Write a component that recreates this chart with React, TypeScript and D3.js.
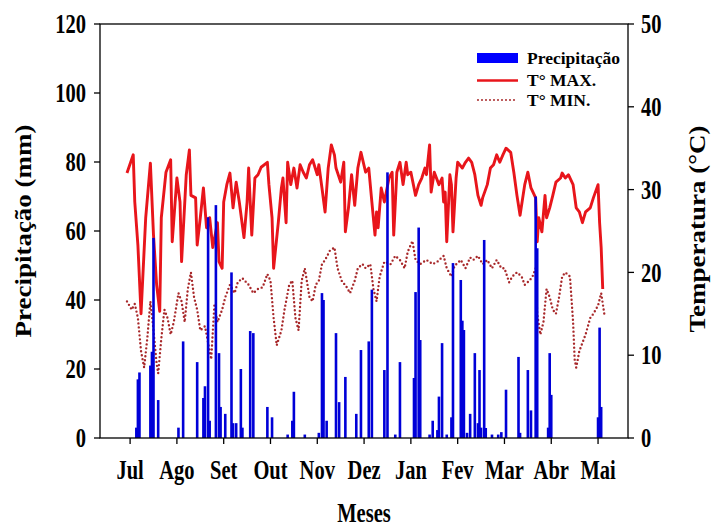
import React from "react";
import { scaleLinear, line } from "d3";

// month ticks (day index from first record)
const months = ["Jul", "Ago", "Set", "Out", "Nov", "Dez", "Jan", "Fev", "Mar", "Abr", "Mai"];
const monthDays = [2, 32, 62, 92, 122, 152, 182, 212, 242, 272, 302];

const precipTicks = [0, 20, 40, 60, 80, 100, 120];
const tempTicks = [0, 10, 20, 30, 40, 50];

// [day, °C]
const tmaxSeries: [number, number][] = [
  [0, 32.0], [4, 34.2], [5, 28.5], [7, 23.3], [9, 15.0], [12, 26.6], [15, 33.2], [17, 24.5], [19, 18.5],
  [21, 15.3], [22, 26.6], [25, 32.1], [28, 33.6], [29, 23.7], [32, 31.4], [34, 28.5], [35, 21.3], [38, 31.8],
  [40, 34.8], [41, 29.3], [44, 29.0], [45, 23.3], [47, 26.6], [49, 30.2], [51, 25.4], [53, 26.6], [55, 23.0],
  [58, 26.0], [59, 21.3], [61, 20.5], [62, 28.5], [64, 30.6], [66, 32.0], [68, 27.8], [70, 30.9], [72, 28.5],
  [75, 24.2], [77, 28.5], [78, 32.6], [80, 24.5], [82, 31.4], [84, 31.8], [86, 32.7], [90, 33.3], [91, 30.6],
  [93, 26.6], [94, 20.5], [97, 26.0], [99, 30.2], [100, 31.4], [102, 26.0], [103, 33.3], [105, 30.6],
  [107, 32.6], [109, 30.2], [111, 33.0], [113, 32.1], [115, 31.4], [117, 33.0], [119, 33.6], [122, 31.8],
  [123, 33.0], [125, 30.2], [127, 27.3], [129, 32.6], [131, 35.4], [133, 34.2], [134, 32.6], [137, 30.9],
  [139, 33.3], [140, 24.9], [142, 27.8], [144, 31.8], [146, 28.1], [148, 32.6], [150, 34.5], [153, 32.1],
  [155, 32.6], [157, 28.5], [159, 24.5], [160, 27.3], [161, 25.4], [163, 30.2], [165, 28.5], [168, 31.4],
  [170, 32.1], [171, 24.5], [173, 32.1], [175, 33.3], [177, 30.6], [179, 33.3], [180, 31.8], [182, 32.1],
  [185, 29.3], [187, 30.6], [189, 31.4], [191, 32.6], [192, 31.8], [194, 35.4], [195, 29.7], [197, 32.1],
  [200, 30.6], [202, 31.4], [203, 28.5], [204, 29.7], [205, 23.7], [207, 31.8], [208, 30.6], [209, 24.9],
  [211, 31.4], [212, 33.3], [215, 32.6], [217, 33.3], [219, 33.8], [221, 33.3], [223, 31.8], [225, 29.3],
  [227, 28.1], [228, 29.0], [231, 30.6], [233, 32.6], [235, 33.0], [237, 34.2], [239, 33.3], [241, 34.2],
  [243, 35.0], [246, 34.5], [248, 32.1], [250, 29.3], [252, 26.9], [255, 30.6], [257, 32.1], [259, 30.2],
  [262, 29.0], [263, 23.7], [264, 26.6], [266, 24.9], [268, 29.3], [269, 26.6], [271, 27.8], [273, 29.3],
  [275, 30.9], [278, 31.4], [279, 32.0], [281, 31.4], [283, 31.8], [286, 30.6], [288, 27.8], [290, 27.3],
  [292, 26.0], [294, 27.3], [297, 27.8], [299, 29.0], [302, 30.6], [303, 26.0], [304, 23.0], [305, 18.0],
];

const tminSeries: [number, number][] = [
  [0, 16.5], [3, 15.5], [5, 16.2], [7, 14.5], [9, 10.5], [11, 8.5], [13, 12], [15, 16.5], [17, 13], [19, 9],
  [20, 7.8], [22, 12], [24, 15.5], [26, 14.5], [28, 12.5], [30, 14], [33, 17.5], [35, 16.5], [37, 14],
  [39, 18], [41, 20], [43, 17], [45, 15.5], [47, 13], [50, 13.5], [53, 10.5], [54, 9.5], [56, 16], [58, 14],
  [61, 15.5], [63, 17], [66, 18.5], [69, 17.5], [71, 18.8], [74, 19.3], [78, 18.5], [81, 17.5], [84, 18],
  [87, 18.2], [90, 19.8], [92, 19], [94, 14.5], [96, 11.2], [99, 13], [101, 15.5], [104, 18.5], [106, 19],
  [108, 14.5], [110, 13], [112, 19], [114, 20.5], [117, 17], [119, 16.5], [121, 18.5], [123, 19], [125, 21],
  [127, 21.5], [130, 22.6], [133, 23], [135, 20.5], [138, 18.8], [140, 18.5], [143, 17.5], [146, 19],
  [148, 20.5], [151, 21], [153, 20.5], [156, 21], [158, 18], [160, 16.5], [162, 19.5], [165, 21.3],
  [169, 21], [172, 22], [175, 21.5], [178, 20.5], [180, 22.5], [183, 23.8], [185, 21.5], [188, 21],
  [192, 21.5], [196, 21], [199, 21.3], [203, 22], [205, 20.5], [208, 19.5], [210, 20.8], [214, 21.5],
  [217, 20.5], [220, 21.8], [222, 21.5], [225, 22], [228, 21], [231, 21.5], [234, 20.5], [237, 21.5],
  [240, 20.5], [242, 20.5], [245, 18.8], [247, 19.5], [250, 20], [253, 19.5], [255, 18.5], [258, 19],
  [260, 19.5], [262, 20.5], [263, 15], [265, 12.5], [267, 14], [269, 18], [271, 17], [273, 15.5], [275, 15],
  [277, 17], [279, 19.5], [281, 20], [284, 19.5], [286, 14], [287, 9.5], [288, 8.5], [290, 10.5],
  [292, 11.5], [294, 12.5], [297, 14.5], [299, 15], [302, 16], [304, 17.5], [306, 15],
];

// [day, mm]
const rainSeries: [number, number][] = [
  [6, 3], [7, 17], [8, 19], [15, 21], [16, 25], [17, 58], [20, 11], [33, 3], [36, 28], [45, 22], [49, 11.6],
  [50, 15], [52, 64], [53, 5], [57, 67.5], [59, 24.6], [60, 9], [63, 7], [67, 48], [68, 4.3], [70, 4.3],
  [73, 20], [74, 3], [79, 31], [81, 30.4], [90, 9], [93, 6], [103, 1], [106, 5], [107, 13.4], [114, 1],
  [123, 1.5], [125, 42], [126, 40], [128, 5], [134, 30.4], [136, 10.4], [140, 17.7], [147, 7], [150, 25.5],
  [155, 28], [157, 43], [165, 19.7], [167, 77], [172, 1], [175, 22], [184, 17.4], [185, 42.3], [187, 61],
  [188, 28.4], [194, 1], [196, 5], [199, 2.3], [200, 12], [202, 27.5], [205, 1], [208, 6], [209, 50.7],
  [214, 45.8], [215, 34], [216, 31.3], [218, 1.5], [220, 7], [223, 24.6], [225, 4.3], [226, 19.7], [227, 3],
  [229, 57.4], [230, 2.9], [234, 1], [238, 1], [240, 1.7], [243, 14], [251, 23.5], [252, 1.5], [257, 19.7],
  [259, 8], [262, 70], [263, 55], [270, 3], [271, 24.6], [272, 12.5], [302, 6], [303, 32], [304, 9],
];

const W = 714;
const H = 530;
const L = 100;
const R = 628;
const T = 24;
const B = 438;
const SX = 0.76; // the source text is squeezed horizontally
const FONT = "'Liberation Serif', 'Times New Roman', serif";
const RED = "#e8151b";
const DOTRED = "#a8282a";
const BLUE = "#0000d8";

export default function App() {
  const x = scaleLinear().domain([-17.3, 321.2]).range([L, R]);
  const yP = scaleLinear().domain([0, 120]).range([B, T]);
  const yT = scaleLinear().domain([0, 50]).range([B, T]);

  const tLine = line<[number, number]>()
    .x((d) => x(d[0]))
    .y((d) => yT(d[1]));

  return (
    <svg
      width={W}
      height={H}
      style={{ position: "absolute", left: 0, top: 0, background: "#fff" }}
      fontFamily={FONT}
      fontWeight="bold"
    >
      <path d={tLine(tmaxSeries) || ""} fill="none" stroke={RED} strokeWidth={2.9} strokeLinejoin="round" />
      <path
        d={tLine(tminSeries) || ""}
        fill="none"
        stroke={DOTRED}
        strokeWidth={2.4}
        strokeLinecap="round"
        strokeDasharray="0 4"
      />

      <g fill={BLUE}>
        {rainSeries.map(([d, v], i) => (
          <rect key={i} x={x(d) - 1.3} width={2.6} y={yP(v)} height={B - yP(v)} />
        ))}
      </g>

      {/* frame */}
      <rect x={L} y={T} width={R - L} height={B - T} fill="none" stroke="#000" strokeWidth={1.3} />

      {/* left axis */}
      {precipTicks.map((v) => (
        <g key={"p" + v}>
          <line x1={L - 6} x2={L} y1={yP(v)} y2={yP(v)} stroke="#000" strokeWidth={1.3} />
          <text transform={`translate(${L - 14},${yP(v)}) scale(${SX},1)`} textAnchor="end" dy="0.34em" fontSize={27}>
            {v}
          </text>
        </g>
      ))}

      {/* right axis */}
      {tempTicks.map((v) => (
        <g key={"t" + v}>
          <line x1={R} x2={R + 6} y1={yT(v)} y2={yT(v)} stroke="#000" strokeWidth={1.3} />
          <text transform={`translate(${R + 13},${yT(v)}) scale(${SX},1)`} textAnchor="start" dy="0.34em" fontSize={27}>
            {v}
          </text>
        </g>
      ))}

      {/* bottom axis */}
      {monthDays.map((d, i) => (
        <g key={"m" + d}>
          <line x1={x(d)} x2={x(d)} y1={B} y2={B + 6} stroke="#000" strokeWidth={1.3} />
          <text transform={`translate(${x(d)},${B + 41}) scale(${SX},1)`} textAnchor="middle" fontSize={27}>
            {months[i]}
          </text>
        </g>
      ))}

      <text transform={`translate(${(L + R) / 2},522) scale(${SX},1)`} textAnchor="middle" fontSize={27}>
        Meses
      </text>
      <text transform={`translate(23,${(T + B) / 2}) scale(0.85,1) rotate(-90)`} textAnchor="middle" dy="0.34em" fontSize={27}>
        Precipitação (mm)
      </text>
      <text transform={`translate(697,${(T + B) / 2 - 2}) scale(0.85,1) rotate(-90)`} textAnchor="middle" dy="0.34em" fontSize={27}>
        Temperatura (°C)
      </text>

      {/* legend */}
      <g fontSize={17.5}>
        <rect x={477} y={53} width={41} height={10} fill="#0000ff" />
        <text x={527} y={64}>Precipitação</text>
        <line x1={477} x2={518} y1={80.5} y2={80.5} stroke={RED} strokeWidth={2.5} />
        <text x={527} y={86}>T° MAX.</text>
        <line x1={478} x2={518} y1={100} y2={100} stroke={DOTRED} strokeWidth={2} strokeLinecap="round" strokeDasharray="0 4" />
        <text x={527} y={106}>T° MIN.</text>
      </g>
    </svg>
  );
}
